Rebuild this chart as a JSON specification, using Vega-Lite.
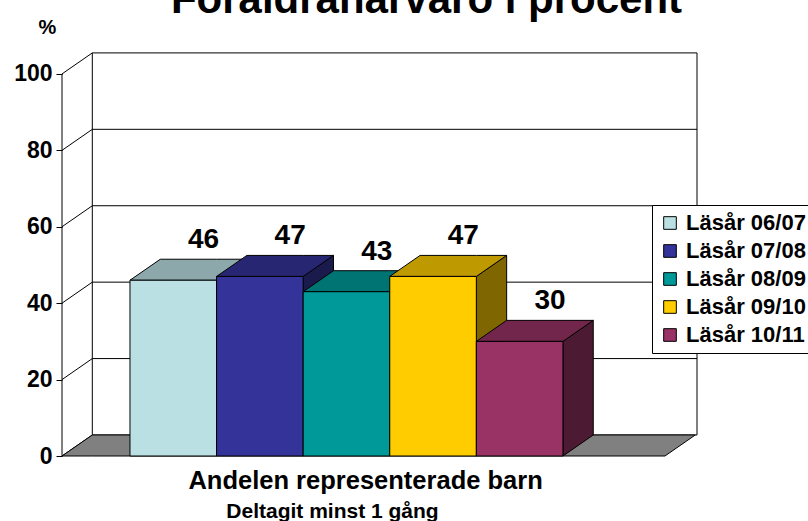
{
  "$schema": "https://vega.github.io/schema/vega-lite/v6.json",
  "width": 635,
  "height": 405,
  "autosize": {"type": "none"},
  "padding": {"left": 62, "top": 51, "right": 111, "bottom": 65},
  "background": "white",
  "config": {"view": {"stroke": null}, "font": "Liberation Sans"},
  "title": {
    "text": "Föräldranärvaro i procent",
    "font": "Liberation Sans",
    "fontSize": 42,
    "fontWeight": "bold",
    "color": "black",
    "anchor": "middle",
    "frame": "group",
    "baseline": "alphabetic",
    "offset": 0,
    "dx": 47,
    "dy": 38
  },
  "datasets": {
    "bars": [
      {"series": "Läsår 06/07", "value": 46},
      {"series": "Läsår 07/08", "value": 47},
      {"series": "Läsår 08/09", "value": 43},
      {"series": "Läsår 09/10", "value": 47},
      {"series": "Läsår 10/11", "value": 30}
    ],
    "grid": [{"v": 0}, {"v": 20}, {"v": 40}, {"v": 60}, {"v": 80}, {"v": 100}]
  },
  "layer": [
    {
      "data": {"name": "bars"},
      "transform": [
        {"window": [{"op": "row_number", "as": "k"}]},
        {"calculate": "0.785 + datum.k - 1", "as": "x0"},
        {"calculate": "datum.x0 + 1", "as": "x1"}
      ],
      "mark": {"type": "bar", "opacity": 0},
      "encoding": {
        "x": {"field": "x0", "type": "quantitative", "title": "Deltagit minst 1 gång", "scale": {"domain": [0, 7.333], "nice": false, "zero": false},
          "axis": {"values": [3.5], "labelExpr": "'Andelen representerade barn'", "ticks": false, "domain": false, "grid": false,
            "labelFont": "Liberation Sans", "labelFontSize": 25.5, "labelFontWeight": "bold", "labelColor": "black", "labelLimit": 0,
            "labelPadding": 12, "labelBaseline": "top", "labelFlush": false, "labelOverlap": false,
            "title": "Deltagit minst 1 gång", "titleFont": "Liberation Sans", "titleFontSize": 21, "titleFontWeight": "bold", "titleColor": "black",
            "titleX": 270, "titleY": 61, "titleAlign": "center", "titleBaseline": "alphabetic"}},
        "x2": {"field": "x1"},
        "y": {"field": "value", "type": "quantitative", "title": "%", "stack": null, "scale": {"domain": [0, 106], "nice": false, "zero": false},
          "axis": {"values": [0, 20, 40, 60, 80, 100], "domain": false, "grid": false, "tickColor": "black", "tickSize": 6, "labelPadding": 4,
            "labelFont": "Liberation Sans", "labelFontSize": 23, "labelFontWeight": "bold", "labelColor": "black",
            "title": "%", "titleAngle": 0, "titleX": -15, "titleY": -24, "titleAlign": "center", "titleBaseline": "middle",
            "titleFont": "Liberation Sans", "titleFontSize": 20, "titleFontWeight": "bold", "titleColor": "black"}},
        "y2": {"datum": 0}
      }
    },
    {
      "data": {"name": "grid"},
      "transform": [{"calculate": "datum.v + 5.5", "as": "vb"}],
      "mark": {"type": "rule", "color": "black", "strokeWidth": 1},
      "encoding": {
        "x": {"datum": 0.35, "type": "quantitative"},
        "x2": {"datum": 7.333},
        "y": {"field": "vb", "type": "quantitative"}
      }
    },
    {
      "data": {"name": "grid"},
      "transform": [{"calculate": "datum.v + 5.5", "as": "vb"}],
      "mark": {"type": "rule", "color": "black", "strokeWidth": 1},
      "encoding": {
        "x": {"datum": 0, "type": "quantitative"},
        "x2": {"datum": 0.35},
        "y": {"field": "v", "type": "quantitative"},
        "y2": {"field": "vb"}
      }
    },
    {
      "data": {"values": [{"edge": "left"}, {"edge": "right"}]},
      "transform": [{"calculate": "datum.edge == 'left' ? 0.35 : 7.333", "as": "ex"}],
      "mark": {"type": "rule", "color": "black", "strokeWidth": 1},
      "encoding": {
        "x": {"field": "ex", "type": "quantitative"},
        "y": {"datum": 5.5, "type": "quantitative"},
        "y2": {"datum": 105.5}
      }
    },
    {
      "data": {"values": [{"part": "floor"}]},
      "transform": [
        {"calculate": "[0, 1, 2, 3]", "as": "c"},
        {"flatten": ["c"]},
        {"calculate": "[0, 0.35, 6.963, 7.313][datum.c]", "as": "fx"},
        {"calculate": "[0, 0, 0, 5.5][datum.c]", "as": "flo"},
        {"calculate": "[0, 5.5, 5.5, 5.5][datum.c]", "as": "fhi"}
      ],
      "mark": {"type": "area", "fill": "#808080", "stroke": "black", "strokeWidth": 1},
      "encoding": {
        "x": {"field": "fx", "type": "quantitative"},
        "y": {"field": "fhi", "type": "quantitative", "stack": null},
        "y2": {"field": "flo"}
      }
    },
    {
      "data": {"values": [{"part": "axis"}]},
      "mark": {"type": "rule", "color": "black", "strokeWidth": 1},
      "encoding": {
        "x": {"datum": 0, "type": "quantitative"},
        "y": {"datum": 0, "type": "quantitative"},
        "y2": {"datum": 100}
      }
    },
    {
      "data": {"name": "bars"},
      "transform": [
        {"window": [{"op": "row_number", "as": "k"}]},
        {"calculate": "0.785 + datum.k - 1", "as": "x0"},
        {"calculate": "datum.x0 + 1", "as": "x1"},
        {"calculate": "[0, 1]", "as": "c"},
        {"flatten": ["c"]},
        {"calculate": "datum.x1 + datum.c * 0.35", "as": "sx"},
        {"calculate": "datum.c * 5.5", "as": "slo"},
        {"calculate": "datum.value + datum.c * 5.5", "as": "shi"}
      ],
      "mark": {"type": "area", "stroke": "black", "strokeWidth": 1},
      "encoding": {
        "x": {"field": "sx", "type": "quantitative"},
        "y": {"field": "shi", "type": "quantitative", "stack": null},
        "y2": {"field": "slo"},
        "fill": {"field": "series", "type": "nominal", "legend": null,
          "scale": {"domain": ["Läsår 06/07", "Läsår 07/08", "Läsår 08/09", "Läsår 09/10", "Läsår 10/11"], "range": ["#5E7072", "#1A1A4D", "#004D4D", "#806600", "#4D1A33"]}}
      }
    },
    {
      "data": {"name": "bars"},
      "transform": [
        {"window": [{"op": "row_number", "as": "k"}]},
        {"calculate": "0.785 + datum.k - 1", "as": "x0"},
        {"calculate": "datum.x0 + 1", "as": "x1"},
        {"calculate": "[0, 1, 2, 3]", "as": "c"},
        {"flatten": ["c"]},
        {"calculate": "[datum.x0, datum.x0 + 0.35, datum.x1, datum.x1 + 0.35][datum.c]", "as": "tx"},
        {"calculate": "datum.value + [0, 0, 0, 5.5][datum.c]", "as": "tlo"},
        {"calculate": "datum.value + [0, 5.5, 5.5, 5.5][datum.c]", "as": "thi"}
      ],
      "mark": {"type": "area", "stroke": "black", "strokeWidth": 1},
      "encoding": {
        "x": {"field": "tx", "type": "quantitative"},
        "y": {"field": "thi", "type": "quantitative", "stack": null},
        "y2": {"field": "tlo"},
        "fill": {"field": "series", "type": "nominal", "legend": null,
          "scale": {"domain": ["Läsår 06/07", "Läsår 07/08", "Läsår 08/09", "Läsår 09/10", "Läsår 10/11"], "range": ["#8CA8AA", "#262673", "#007373", "#BF9900", "#73264C"]}}
      }
    },
    {
      "data": {"name": "bars"},
      "transform": [
        {"window": [{"op": "row_number", "as": "k"}]},
        {"calculate": "0.785 + datum.k - 1", "as": "x0"},
        {"calculate": "datum.x0 + 1", "as": "x1"}
      ],
      "mark": {"type": "bar", "stroke": "black", "strokeWidth": 1},
      "encoding": {
        "x": {"field": "x0", "type": "quantitative"},
        "x2": {"field": "x1"},
        "y": {"field": "value", "type": "quantitative", "stack": null},
        "y2": {"datum": 0},
        "color": {"field": "series", "type": "nominal",
          "scale": {"domain": ["Läsår 06/07", "Läsår 07/08", "Läsår 08/09", "Läsår 09/10", "Läsår 10/11"], "range": ["#BBE0E3", "#333399", "#009999", "#FFCC00", "#993366"]},
          "legend": {"orient": "none", "legendX": 590, "legendY": 154, "title": null, "strokeColor": "black", "fillColor": "white",
            "padding": 7, "symbolType": "square", "symbolSize": 160, "symbolStrokeColor": "black", "symbolStrokeWidth": 1,
            "labelFont": "Liberation Sans", "labelFontSize": 22, "labelFontWeight": "bold", "labelColor": "black",
            "labelOffset": 5, "rowPadding": 6}}
      }
    },
    {
      "data": {"name": "bars"},
      "transform": [
        {"window": [{"op": "row_number", "as": "k"}]},
        {"calculate": "0.785 + datum.k - 1 + 0.5 + 0.35", "as": "lx"},
        {"calculate": "datum.value + 5.5 + 5", "as": "ly"}
      ],
      "mark": {"type": "text", "font": "Liberation Sans", "fontSize": 28, "fontWeight": "bold", "color": "black", "baseline": "middle", "align": "center"},
      "encoding": {
        "x": {"field": "lx", "type": "quantitative"},
        "y": {"field": "ly", "type": "quantitative"},
        "text": {"field": "value", "type": "quantitative"}
      }
    }
  ],
  "resolve": {"scale": {"fill": "independent"}}
}
